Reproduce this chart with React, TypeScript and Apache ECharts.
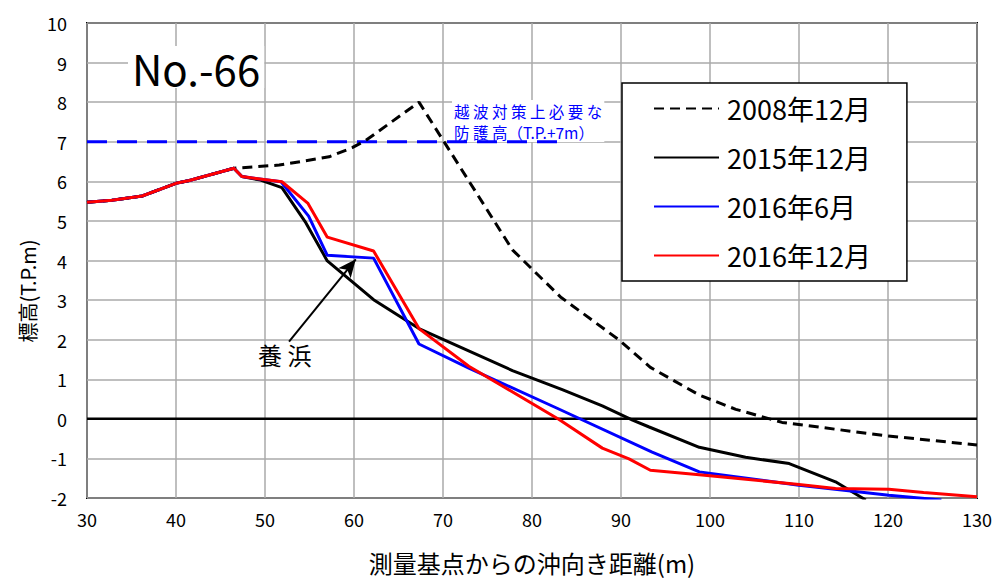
import React, { useEffect, useRef } from "react";
import * as echarts from "echarts";

const FONT = '"Noto Sans CJK JP", "Noto Sans", sans-serif';

const seriesNames = ["2008年12月", "2015年12月", "2016年6月", "2016年12月"];
const seriesColors = ["#000000", "#000000", "#0000ff", "#ff0000"];

const common: [number, number][] = [
  [30, 5.47], [32.8, 5.52], [36.2, 5.63], [40, 5.95], [41.5, 6.02], [46.5, 6.33],
];

const data2008: [number, number][] = [
  ...common,
  [51.6, 6.41], [57.2, 6.62], [59.8, 6.85], [61.3, 7.03], [67.3, 8.0],
  [77.8, 4.27], [83.2, 3.08], [89.8, 1.99], [93.3, 1.3], [98.8, 0.6],
  [102.9, 0.24], [108.1, -0.09], [119.9, -0.43], [130, -0.66],
];

const data2015: [number, number][] = [
  ...common,
  [47.4, 6.12], [49.5, 6.03], [51.9, 5.84], [54.6, 4.95], [57.0, 3.99],
  [62.2, 3.01], [67.3, 2.28], [77.8, 1.22], [83.4, 0.74], [87.9, 0.33],
  [91.3, -0.03], [93.1, -0.2], [98.8, -0.72], [104.0, -0.97], [108.9, -1.13],
  [114.1, -1.59], [117.5, -2.05],
];

const data2016Jun: [number, number][] = [
  ...common,
  [47.4, 6.12], [51.8, 5.99], [54.9, 5.12], [57.0, 4.13], [62.2, 4.06],
  [67.3, 1.89], [72.9, 1.28], [82.7, 0.28], [93.5, -0.84], [98.8, -1.34],
  [110, -1.68], [120.1, -1.93], [126, -2.05],
];

const data2016Dec: [number, number][] = [
  ...common,
  [47.4, 6.12], [51.9, 5.99], [54.8, 5.45], [57.0, 4.59], [62.2, 4.24],
  [67.3, 2.28], [72.9, 1.33], [83.0, -0.01], [87.9, -0.74], [90.9, -1.01],
  [93.3, -1.3], [98.8, -1.41], [110, -1.66], [114.1, -1.76], [120.1, -1.78],
  [124, -1.86], [130, -1.97],
];

const protectLine: [number, number][] = [[30, 7], [83, 7]];
const zeroLine: [number, number][] = [[30, 0], [130, 0]];
const arrowFrom: [number, number] = [52.7, 1.95];
const arrowTo: [number, number] = [60.2, 4.03];

const xTicks = { min: 30, max: 130, interval: 10 };
const yTicks = { min: -2, max: 10, interval: 1 };

export default function App() {
  const ref = useRef<HTMLDivElement>(null);
  useEffect(() => {
    if (!ref.current) return;
    const chart = echarts.init(ref.current, undefined, { renderer: "svg" });
    const lineSeries = (name: string, data: [number, number][], color: string, dashed: boolean, z: number) => ({
      type: "line",
      name,
      data,
      symbol: "none",
      showSymbol: false,
      z,
      lineStyle: { color, width: 3, type: dashed ? [10, 6] : "solid" },
      itemStyle: { color },
    });
    chart.setOption({
      animation: false,
      backgroundColor: "#ffffff",
      textStyle: { fontFamily: FONT },
      grid: {
        left: 87, top: 23, right: 22, bottom: 76,
        show: true, borderColor: "#000", borderWidth: 2, backgroundColor: "transparent",
      },
      xAxis: {
        type: "value", ...xTicks,
        name: "測量基点からの沖向き距離(m)",
        nameLocation: "middle", nameGap: 52,
        nameTextStyle: { fontSize: 24, color: "#000", fontFamily: FONT },
        axisLine: { show: false },
        axisTick: { show: false },
        axisLabel: { fontSize: 18, color: "#000", margin: 12, fontFamily: FONT },
        splitLine: { show: true, lineStyle: { color: "#aaaaaa", width: 1.5 } },
      },
      yAxis: {
        type: "value", ...yTicks,
        axisLine: { show: false },
        axisTick: { show: false },
        axisLabel: { fontSize: 18, color: "#000", margin: 20, fontFamily: FONT },
        splitLine: { show: true, lineStyle: { color: "#aaaaaa", width: 1.5 } },
      },
      legend: {
        orient: "vertical",
        left: 622, top: 83,
        data: seriesNames,
        backgroundColor: "#ffffff",
        borderColor: "#000",
        borderWidth: 1.5,
        padding: [12, 36, 12, 31],
        itemWidth: 65,
        itemHeight: 14,
        itemGap: 22,
        itemStyle: { color: "rgba(0,0,0,0)", borderWidth: 0, opacity: 0 },
        textStyle: { fontSize: 27, color: "#000", lineHeight: 27, fontFamily: FONT, padding: [0, 0, 0, 3] },
        selectedMode: false,
      },
      series: [
        {
          type: "line", name: "zero", data: zeroLine, symbol: "none", z: 1, silent: true,
          lineStyle: { color: "#000", width: 2.5 },
        },
        {
          type: "line", name: "protect", data: protectLine, symbol: "none", z: 1, silent: true,
          lineStyle: { color: "#0000ff", width: 3, type: [20, 10] },
        },
        lineSeries(seriesNames[0], data2008, seriesColors[0], true, 3),
        lineSeries(seriesNames[1], data2015, seriesColors[1], false, 4),
        lineSeries(seriesNames[2], data2016Jun, seriesColors[2], false, 5),
        {
          ...lineSeries(seriesNames[3], data2016Dec, seriesColors[3], false, 6),
          markLine: {
            silent: true,
            symbol: ["none", "arrow"],
            symbolSize: [12, 18],
            label: { show: false },
            lineStyle: { color: "#000", width: 2, type: "solid" },
            data: [[{ coord: arrowFrom }, { coord: arrowTo }]],
          },
        },
      ],
      graphic: [
        {
          type: "text", x: 27, y: 291, rotation: Math.PI / 2, z: 1,
          style: {
            text: "標高(T.P.m)", fontSize: 20, fill: "#000", fontFamily: FONT,
            align: "center", verticalAlign: "middle",
          },
        },
        {
          type: "text", left: 128, top: 46, z: 1,
          style: {
            text: "No.-66", fontSize: 42, fill: "#000", fontFamily: FONT,
            backgroundColor: "#fff", padding: [0, 4],
          },
        },
        {
          type: "text", left: 452, top: 100, z: 1,
          style: {
            text: "越 波 対 策 上 必 要 な\n防 護 高（T.P.+7m）",
            fontSize: 15.5, lineHeight: 21, fill: "#0000ff", fontFamily: FONT,
            backgroundColor: "#fff", padding: [0, 2],
          },
        },
        {
          type: "text", left: 258, top: 342, z: 10,
          style: { text: "養 浜", fontSize: 24, fill: "#000", fontFamily: FONT },
        },
      ],
    });
    return () => chart.dispose();
  }, []);
  return <div ref={ref} style={{ width: 999, height: 579, position: "absolute", left: 0, top: 0 }} />;
}
